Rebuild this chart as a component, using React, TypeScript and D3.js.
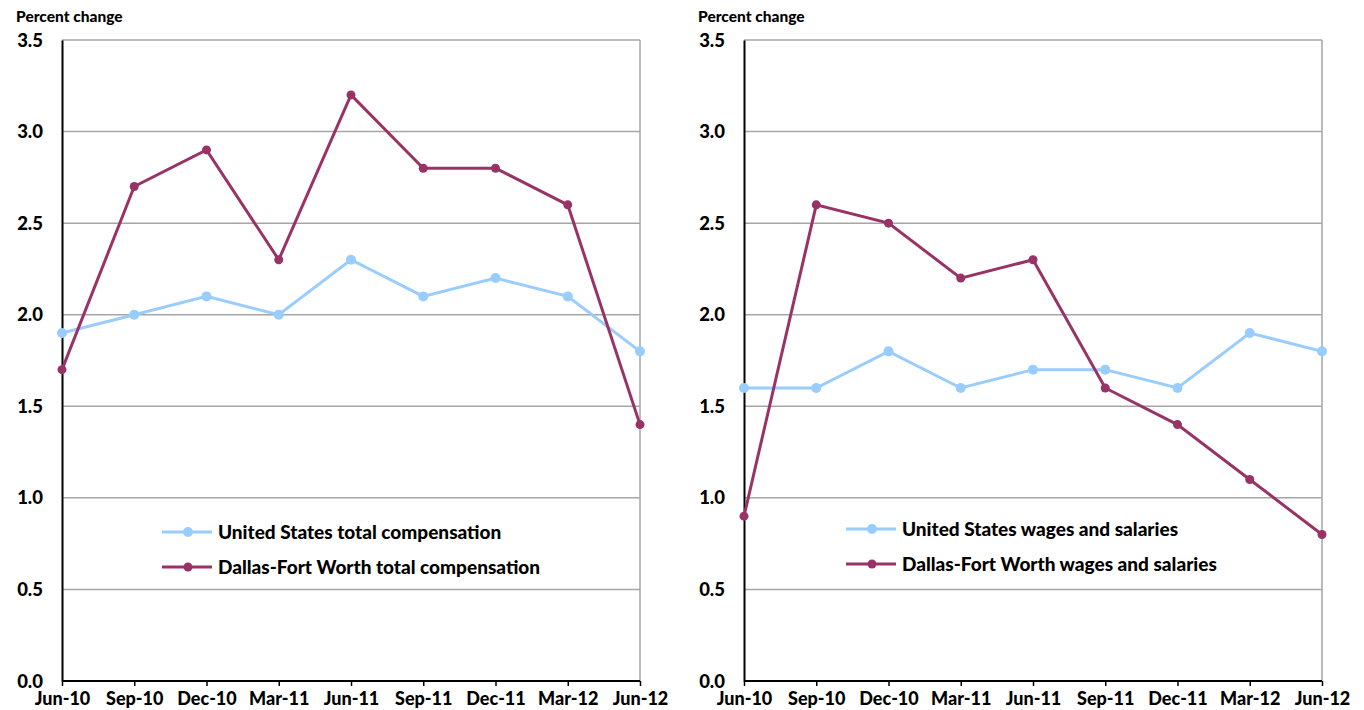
import React, { useEffect, useRef } from "react";
import * as d3 from "d3";

const quarters = ["Jun-10", "Sep-10", "Dec-10", "Mar-11", "Jun-11", "Sep-11", "Dec-11", "Mar-12", "Jun-12"];
const yTicks = [0, 0.5, 1.0, 1.5, 2.0, 2.5, 3.0, 3.5];

const usTotal = [1.9, 2.0, 2.1, 2.0, 2.3, 2.1, 2.2, 2.1, 1.8];
const dfwTotal = [1.7, 2.7, 2.9, 2.3, 3.2, 2.8, 2.8, 2.6, 1.4];
const usWages = [1.6, 1.6, 1.8, 1.6, 1.7, 1.7, 1.6, 1.9, 1.8];
const dfwWages = [0.9, 2.6, 2.5, 2.2, 2.3, 1.6, 1.4, 1.1, 0.8];

const BLUE = "#99ccff";
const MAROON = "#993366";
const FONT = "Lato, 'Open Sans', sans-serif";

// one panel of the chart
function drawPanel(
  svg: d3.Selection<SVGSVGElement, unknown, null, undefined>,
  left: number,
  us: number[],
  dfw: number[],
  labels: [string, string],
  legendX: number,
  legendY: number
) {
  const width = 578;
  const top = 40;
  const bottom = 681;

  const x = d3.scalePoint<string>().domain(quarters).range([left, left + width]);
  const y = d3.scaleLinear().domain([0, 3.5]).range([bottom, top]);

  const g = svg.append("g");

  // gridlines
  g.selectAll("line.grid")
    .data(yTicks.filter((t) => t > 0))
    .enter()
    .append("line")
    .attr("x1", left)
    .attr("x2", left + width)
    .attr("y1", (d) => y(d))
    .attr("y2", (d) => y(d))
    .style("stroke", "#a6a6a6")
    .style("stroke-width", 1.5);

  // right border
  g.append("line")
    .attr("x1", left + width)
    .attr("x2", left + width)
    .attr("y1", top)
    .attr("y2", bottom)
    .style("stroke", "#a6a6a6")
    .style("stroke-width", 1.5);

  // axes
  const xAxis = g
    .append("g")
    .attr("transform", `translate(0,${bottom})`)
    .call(d3.axisBottom(x).tickSize(5).tickPadding(6));
  xAxis.select(".domain").attr("d", `M${left},0H${left + width}`).style("stroke-width", 2);
  xAxis.selectAll(".tick line").style("stroke-width", 1.5);
  xAxis
    .selectAll("text")
    .style("font-family", FONT)
    .style("font-weight", "900")
    .style("font-size", "18px")
    .attr("dy", "0.72em");

  const yAxis = g
    .append("g")
    .attr("transform", `translate(${left},0)`)
    .call(d3.axisLeft(y).tickValues(yTicks).tickSize(0).tickPadding(19).tickFormat(d3.format(".1f")));
  yAxis.select(".domain").style("stroke-width", 2);
  yAxis
    .selectAll("text")
    .style("font-family", FONT)
    .style("font-weight", "900")
    .style("font-size", "18.5px")
    .attr("dy", "0.33em");

  g.append("text")
    .attr("x", left - 46)
    .attr("y", 22)
    .style("font-family", FONT)
    .style("font-weight", "900")
    .style("font-size", "15.5px")
    .text("Percent change");

  const line = d3
    .line<number>()
    .x((_, i) => x(quarters[i]) as number)
    .y((d) => y(d));

  const series = [
    { data: us, color: BLUE, r: 5 },
    { data: dfw, color: MAROON, r: 4.5 },
  ];

  series.forEach((s) => {
    g.append("path")
      .datum(s.data)
      .attr("d", line)
      .style("fill", "none")
      .style("stroke", s.color)
      .style("stroke-width", 3);
    g.selectAll(null)
      .data(s.data)
      .enter()
      .append("circle")
      .attr("cx", (_, i) => x(quarters[i]) as number)
      .attr("cy", (d) => y(d))
      .attr("r", s.r)
      .style("fill", s.color);
  });

  // legend
  series.forEach((s, i) => {
    const ly = legendY + i * 35;
    g.append("line")
      .attr("x1", legendX)
      .attr("x2", legendX + 50)
      .attr("y1", ly)
      .attr("y2", ly)
      .style("stroke", s.color)
      .style("stroke-width", 3);
    g.append("circle")
      .attr("cx", legendX + 26)
      .attr("cy", ly)
      .attr("r", s.r)
      .style("fill", s.color);
    g.append("text")
      .attr("x", legendX + 56)
      .attr("y", ly)
      .attr("dy", "0.35em")
      .style("font-family", FONT)
      .style("font-weight", "900")
      .style("font-size", "19px")
      .text(labels[i]);
  });
}

function MakeSvg(ref: React.MutableRefObject<SVGSVGElement | null>) {
  const svg = d3.select(ref.current as SVGSVGElement);
  svg.selectAll("*").remove();
  drawPanel(svg, 62, usTotal, dfwTotal, ["United States total compensation", "Dallas-Fort Worth total compensation"], 162, 532);
  drawPanel(svg, 744, usWages, dfwWages, ["United States wages and salaries", "Dallas-Fort Worth wages and salaries"], 846, 529);
}

const App = () => {
  const ref = useRef<SVGSVGElement | null>(null);
  useEffect(() => {
    MakeSvg(ref);
  }, []);
  return (
    <svg
      ref={ref}
      width={1364}
      height={710}
      style={{ position: "absolute", left: 0, top: 0, background: "#fff" }}
    />
  );
};

export default App;
